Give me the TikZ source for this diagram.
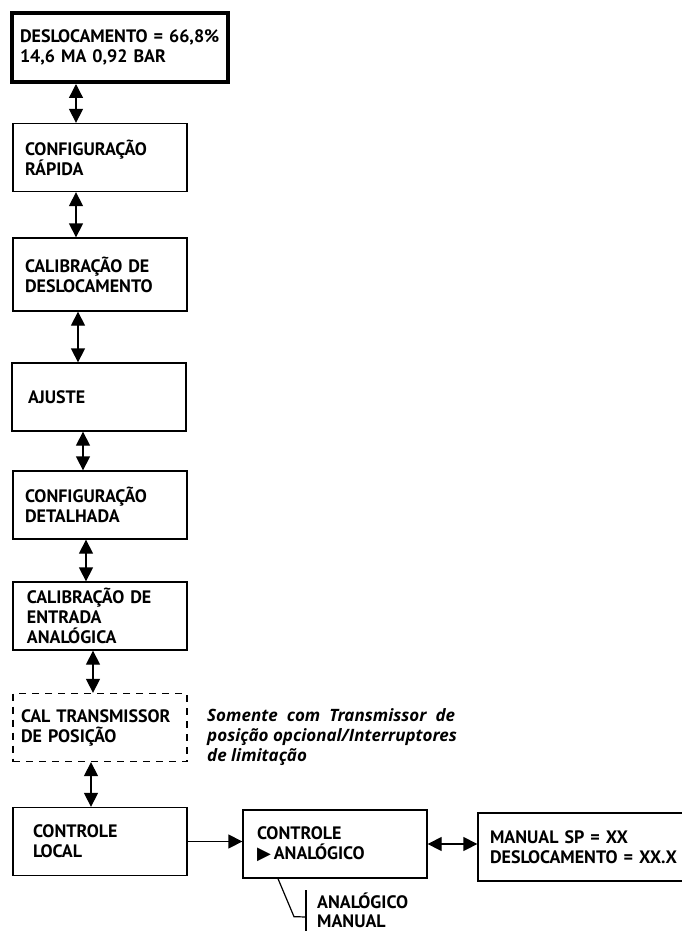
\documentclass[tikz,border=0pt]{standalone}
\usepackage{fontspec}
\setmainfont{PT Sans}
\newfontfamily\notefont{Open Sans}
\newfontfamily\symfont{DejaVu Sans}
\usepackage{tikz}
\usetikzlibrary{shapes.geometric, arrows.meta}

\tikzset{
  menu/.style={draw, line width=1.3pt, minimum width=174pt, minimum height=68pt,
    text width=150pt, inner xsep=12pt, align=left,
    font=\fontsize{18}{20}\selectfont\bfseries},
  dbl/.style={{Triangle[length=14pt,width=14pt]}-{Triangle[length=14pt,width=14pt]}, line width=1.3pt},
  sgl/.style={-{Triangle[length=14pt,width=14pt]}, line width=1.3pt},
  note/.style={inner sep=0pt, align=left, font=\notefont\fontsize{17}{20}\selectfont\bfseries\itshape},
}

\begin{document}
\begin{tikzpicture}[x=1pt,y=-1pt]
\useasboundingbox (0,0) rectangle (681,931);

% menu column
\node[menu, line width=4pt, minimum width=216pt, minimum height=69pt, text width=200pt, inner xsep=8pt] (disp) at (120,47.5) {DESLOCAMENTO = 66,8\%\\14,6 MA 0,92 BAR};
\node[menu] (rapida) at (100,157.5) {CONFIGURAÇÃO\\RÁPIDA};
\node[menu, minimum height=73pt] (desloc) at (100,274.5) {CALIBRAÇÃO DE\\DESLOCAMENTO};
\node[menu, inner xsep=16pt, text width=142pt] (ajuste) at (99,397) {AJUSTE};
\node[menu] (detalh) at (100,505) {CONFIGURAÇÃO\\DETALHADA};
\node[menu, inner xsep=14pt, text width=146pt] (entrada) at (100,616) {CALIBRAÇÃO DE\\ENTRADA\\ANALÓGICA};
\node[menu, dash pattern=on 7pt off 6pt, inner xsep=8pt, text width=158pt] (transm) at (100,727.5) {CAL TRANSMISSOR\\DE POSIÇÃO};
\node[menu, inner xsep=20pt, text width=134pt] (local) at (100,841.5) {CONTROLE\\LOCAL};

% bottom row
\node[menu, minimum width=184pt, inner xsep=14pt, text width=156pt] (analog) at (335,844) {CONTROLE\\{\symfont ▶}\,ANALÓGICO};
\node[menu, minimum width=240pt, inner xsep=12pt, text width=216pt] (manual) at (598,847) {MANUAL SP = XX\\DESLOCAMENTO = XX.X};

\node[note, anchor=north west] (nota) at (207,708) {\makebox[248pt][s]{Somente com Transmissor de}\\posição opcional/Interruptores\\de limitação};
\node[anchor=west, align=left, inner xsep=11pt, inner ysep=2pt, font=\fontsize{18}{19}\selectfont\bfseries] (modo) at (306,910) {ANALÓGICO\\MANUAL};

% connectors
\foreach \a/\b/\x in {disp/rapida/76, rapida/desloc/76, desloc/ajuste/78, ajuste/detalh/83, detalh/entrada/86, entrada/transm/93, transm/local/91}
    \draw[dbl] (\a.south -| \x,0) -- (\b.north -| \x,0);

\draw[sgl] (local.east) -- (local.east -| analog.west);
\draw[dbl] (analog.east) -- (analog.east -| manual.west);

\draw[line width=1.2pt] (analog.south -| 278,0) -- ++(16,38) -- (modo.west |- 0,917);
\draw[line width=1.2pt] (modo.north west) -- ++(0,45);

\end{tikzpicture}
\end{document}
